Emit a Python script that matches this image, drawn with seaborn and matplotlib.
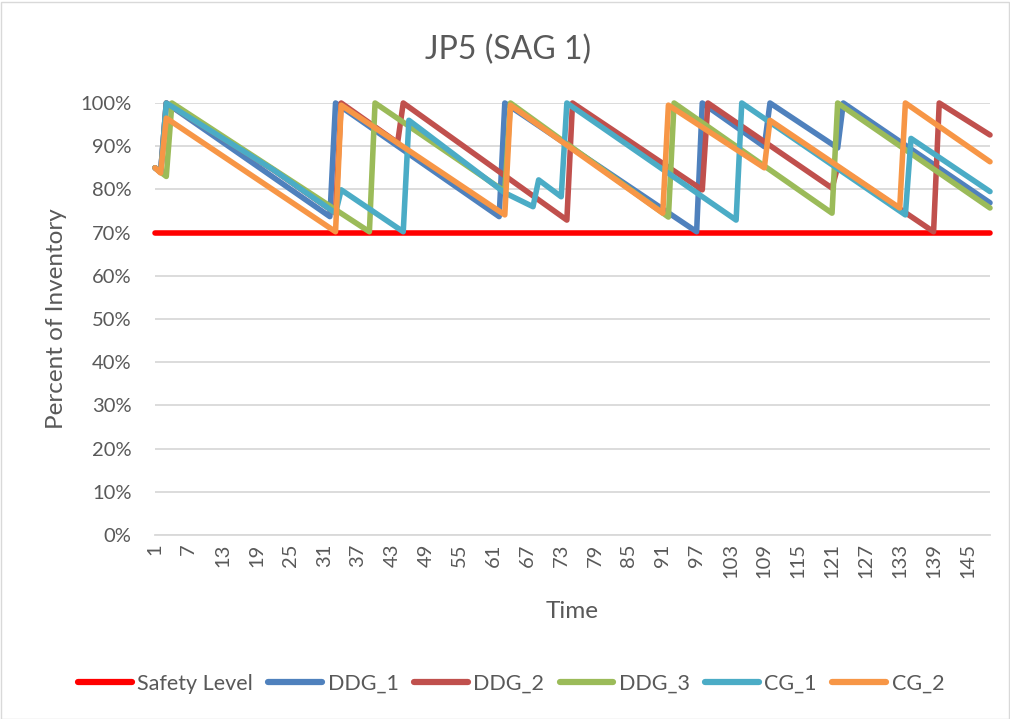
import matplotlib
matplotlib.use("Agg")
import matplotlib.pyplot as plt
import seaborn as sns
import pandas as pd
from matplotlib.patches import Rectangle

# ---------------- data (vertices of each series: time step, percent) -------------
time_ticks = list(range(1, 150, 6))
n_steps = 149

safety_t = [1, 149]
safety_v = [70, 70]

ddg1_t = [1, 2, 3, 32, 33, 62, 63, 97, 98, 109, 110, 122, 123, 149]
ddg1_v = [85, 84, 100, 73.7, 100, 73.7, 100, 70.2, 100, 89.9, 100, 89.6, 100, 76.9]

ddg2_t = [1, 2, 3, 22, 33, 34, 44, 45, 74, 75, 98, 99, 121, 122, 139, 140, 149]
ddg2_v = [85, 84, 100, 84.5, 74.5, 100, 90.8, 100, 72.9, 100, 79.9, 100, 80.3, 85.2, 70.2, 100, 92.6]

ddg3_t = [1, 2, 3, 4, 39, 40, 63, 64, 92, 93, 121, 122, 149]
ddg3_v = [85, 84, 83, 100, 70.2, 100, 79.5, 100, 73.6, 100, 74.5, 100, 75.7]

cg1_t = [1, 2, 3, 22, 33, 34, 45, 46, 63, 68, 69, 73, 74, 104, 105, 134, 135, 149]
cg1_v = [85, 84, 100, 84.5, 74.5, 79.9, 70.2, 96, 79.2, 76, 82.2, 78.3, 100, 72.9, 100, 74.1, 91.8, 79.5]

cg2_t = [1, 2, 3, 33, 34, 63, 64, 91, 92, 109, 110, 133, 134, 149]
cg2_v = [85, 83.8, 96.5, 70.2, 99.5, 74.1, 99.5, 74.5, 99.5, 85, 96, 75.7, 100, 86.4]

series_names = ["Safety Level", "DDG_1", "DDG_2", "DDG_3", "CG_1", "CG_2"]
series_t = [safety_t, ddg1_t, ddg2_t, ddg3_t, cg1_t, cg2_t]
series_v = [safety_v, ddg1_v, ddg2_v, ddg3_v, cg1_v, cg2_v]
colors = ["#FF0000", "#4F81BD", "#C0504D", "#9BBB59", "#4BACC6", "#F79646"]

# ---------------- style -------------
sns.set_theme(style="white")
plt.rcParams["font.family"] = ["Lato", "DejaVu Sans"]

W, H = 1010, 719
fig = plt.figure(figsize=(W / 100, H / 100), dpi=100)
fig.patch.set_facecolor("white")
fig.add_artist(Rectangle((0.5 / W, 0.5 / H), 1 - 2 / W, 1 - 2 / H, transform=fig.transFigure,
                         fill=False, edgecolor="#D9D9D9", lw=1))

L, R, T, B = 155, 990, 103, 535
ax = fig.add_axes([L / W, 1 - B / H, (R - L) / W, (B - T) / H])

for name, t, v, c in zip(series_names, series_t, series_v, colors):
    df = pd.DataFrame({"Time": t, "Percent": v})
    sns.lineplot(data=df, x="Time", y="Percent", ax=ax, color=c, lw=4.0,
                 label=name, estimator=None, sort=False, legend=False,
                 solid_joinstyle="round", solid_capstyle="round", clip_on=False)

ax.set_xlim(1, n_steps)
ax.set_ylim(0, 100)
ax.set_yticks(range(0, 101, 10))
ax.set_yticklabels([f"{p}%" for p in range(0, 101, 10)])
ax.set_xticks(time_ticks)
ax.set_xticklabels([str(t) for t in time_ticks], rotation=90)
ax.tick_params(axis="both", length=0, labelsize=14.5, colors="#595959")
ax.tick_params(axis="x", pad=6)
ax.tick_params(axis="y", pad=17)
ax.yaxis.grid(True, color="#D9D9D9", lw=1.3)
ax.xaxis.grid(False)
ax.set_axisbelow(True)
for s in ["top", "right", "left"]:
    ax.spines[s].set_visible(False)
ax.spines["bottom"].set_color("#D9D9D9")
ax.spines["bottom"].set_linewidth(1.3)

ax.set_xlabel("Time", fontsize=17.5, color="#595959")
ax.xaxis.set_label_coords(0.5, -0.152)
ax.set_ylabel("Percent of Inventory", fontsize=17.5, color="#595959")
ax.yaxis.set_label_coords(-0.105, 0.5)

fig.text(508 / W, 1 - 50 / H, "JP5 (SAG 1)", ha="center", va="center",
         fontsize=23, color="#595959")

handles = [plt.Line2D([], [], color=c, lw=4.5) for c in colors]
fig.legend(handles, series_names, loc="center", bbox_to_anchor=(511 / W, 1 - 684 / H),
           ncol=6, frameon=False, fontsize=15.5, handlelength=2.5, handletextpad=0.25,
           columnspacing=0.72, labelcolor="#595959")

fig.savefig("out.png", dpi=100)
